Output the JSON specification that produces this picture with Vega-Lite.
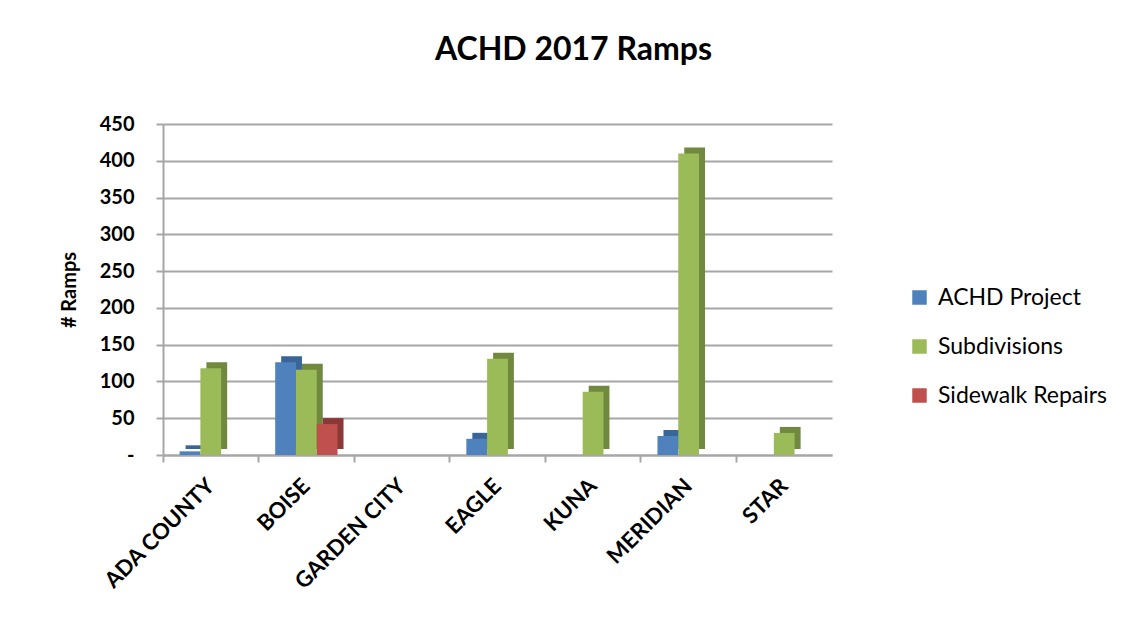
{
  "$schema": "https://vega.github.io/schema/vega-lite/v6.json",
  "autosize": {"type": "none"},
  "padding": {"left": 163, "top": 124, "right": 303, "bottom": 167},
  "width": 669,
  "height": 331,
  "background": "white",
  "title": {
    "text": "ACHD 2017 Ramps",
    "font": "Lato",
    "fontSize": 32,
    "fontWeight": "bold",
    "color": "black",
    "anchor": "middle",
    "frame": "group",
    "dx": 76,
    "offset": 47
  },
  "data": {
    "values": [
      {"city": "ADA COUNTY", "series": "ACHD Project", "ramps": 5},
      {"city": "ADA COUNTY", "series": "Subdivisions", "ramps": 118},
      {"city": "BOISE", "series": "ACHD Project", "ramps": 126},
      {"city": "BOISE", "series": "Subdivisions", "ramps": 116},
      {"city": "BOISE", "series": "Sidewalk Repairs", "ramps": 42},
      {"city": "GARDEN CITY", "series": "ACHD Project", "ramps": 0},
      {"city": "GARDEN CITY", "series": "Subdivisions", "ramps": 0},
      {"city": "GARDEN CITY", "series": "Sidewalk Repairs", "ramps": 0},
      {"city": "EAGLE", "series": "ACHD Project", "ramps": 22},
      {"city": "EAGLE", "series": "Subdivisions", "ramps": 131},
      {"city": "KUNA", "series": "Subdivisions", "ramps": 86},
      {"city": "MERIDIAN", "series": "ACHD Project", "ramps": 26},
      {"city": "MERIDIAN", "series": "Subdivisions", "ramps": 410},
      {"city": "STAR", "series": "Subdivisions", "ramps": 30}
    ]
  },
  "encoding": {
    "x": {
      "field": "city",
      "type": "nominal",
      "sort": null,
      "scale": {"paddingInner": 0, "paddingOuter": 0},
      "axis": {
        "title": null,
        "labelAngle": -45,
        "labelAlign": "right",
        "labelBaseline": "middle",
        "labelFont": "Lato",
        "labelFontSize": 22,
        "labelFontWeight": "bold",
        "labelColor": "black",
        "labelPadding": 20,
        "bandPosition": 0,
        "tickColor": "#a6a6a6",
        "tickWidth": 2,
        "tickSize": 7,
        "domainColor": "#a6a6a6",
        "domainWidth": 2,
        "grid": false
      }
    },
    "y": {
      "field": "ramps",
      "type": "quantitative",
      "scale": {"domain": [0, 450], "nice": false},
      "axis": {
        "title": "# Ramps",
        "titleFont": "Lato",
        "titleFontSize": 20,
        "titleFontWeight": "bold",
        "titleColor": "black",
        "titlePadding": 20,
        "values": [0, 50, 100, 150, 200, 250, 300, 350, 400, 450],
        "labelExpr": "datum.value == 0 ? '-' : datum.label",
        "labelFont": "Lato",
        "labelFontSize": 20,
        "labelFontWeight": "bold",
        "labelColor": "black",
        "labelPadding": 22,
        "tickColor": "#a6a6a6",
        "tickWidth": 2,
        "tickSize": 7,
        "domainColor": "#a6a6a6",
        "domainWidth": 2,
        "gridColor": "#a6a6a6",
        "gridWidth": 2
      }
    }
  },
  "layer": [
    {
      "mark": {"type": "bar", "yOffset": -6},
      "encoding": {
        "xOffset": {
          "field": "series",
          "type": "nominal",
          "scale": {"domain": ["ACHD Project", "Subdivisions", "Sidewalk Repairs"], "paddingInner": 0, "paddingOuter": 0.8, "range": [6, 101.57]}
        },
        "color": {
          "field": "series",
          "type": "nominal",
          "legend": null,
          "scale": {"domain": ["ACHD Project", "Subdivisions", "Sidewalk Repairs"], "range": ["#3a6598", "#71893f", "#8c3836"]}
        }
      }
    },
    {
      "mark": {"type": "bar"},
      "encoding": {
        "xOffset": {
          "field": "series",
          "type": "nominal",
          "scale": {"domain": ["ACHD Project", "Subdivisions", "Sidewalk Repairs"], "paddingInner": 0, "paddingOuter": 0.8, "range": [0, 95.57]}
        },
        "color": {
          "field": "series",
          "type": "nominal",
          "scale": {"domain": ["ACHD Project", "Subdivisions", "Sidewalk Repairs"], "range": ["#4f81bd", "#9bbb59", "#c0504d"]},
          "legend": {
            "title": null,
            "orient": "none",
            "legendX": 745,
            "legendY": 162,
            "symbolType": "square",
            "symbolSize": 210,
            "symbolStrokeWidth": 0,
            "labelFont": "Lato",
            "labelFontSize": 23,
            "labelColor": "black",
            "labelLimit": 400,
            "labelOffset": 7,
            "rowPadding": 25
          }
        }
      }
    }
  ],
  "resolve": {"scale": {"color": "independent", "xOffset": "independent"}},
  "config": {"view": {"stroke": null}}
}
